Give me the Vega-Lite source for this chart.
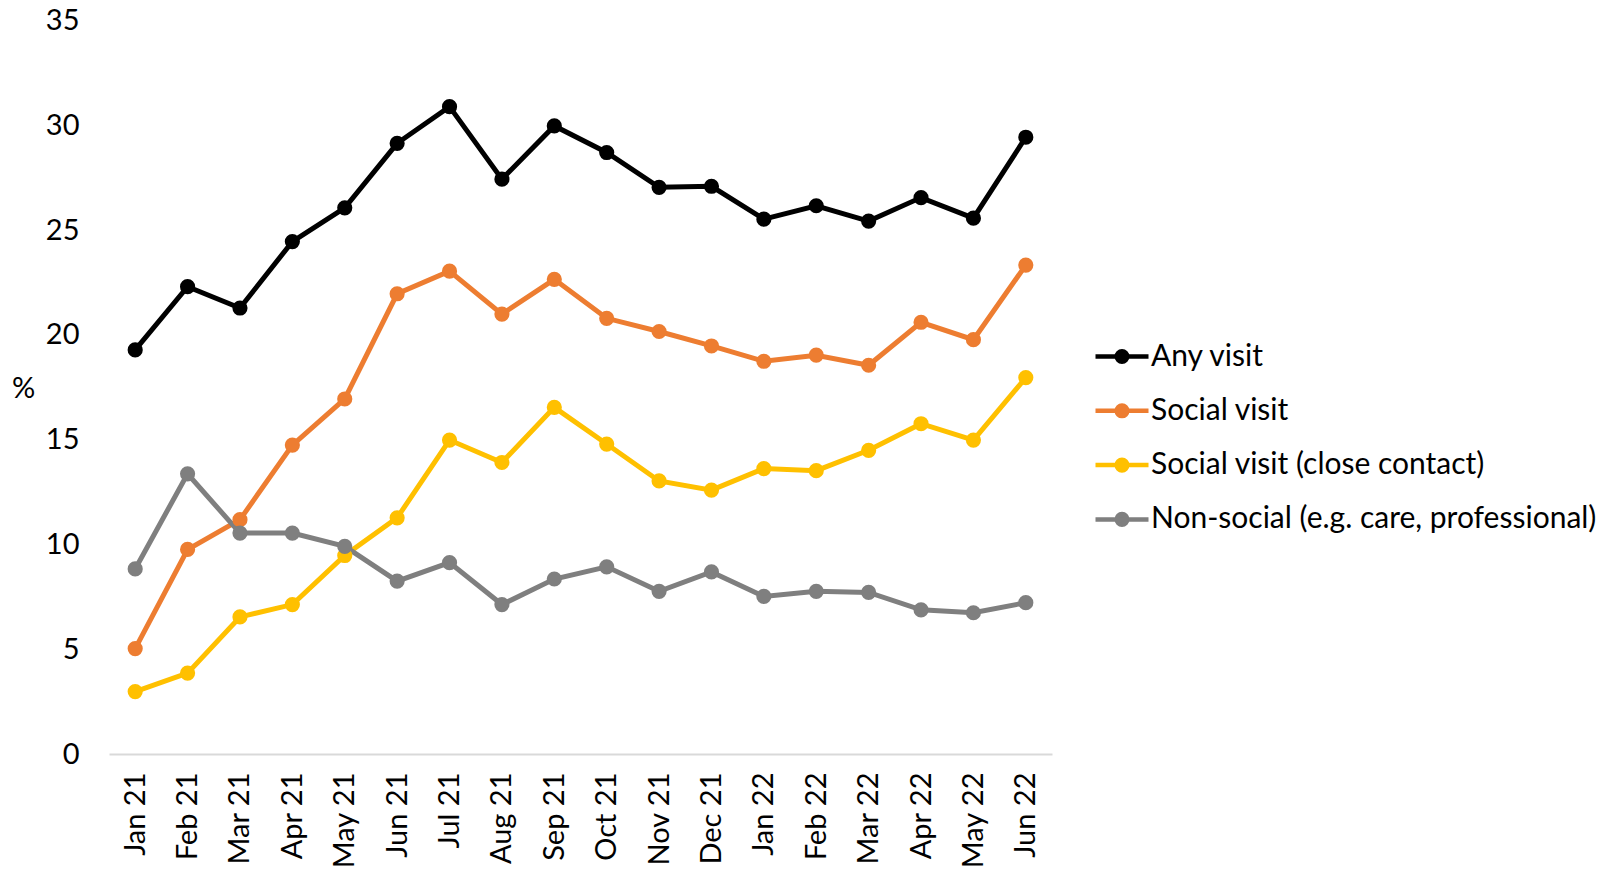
{
  "$schema": "https://vega.github.io/schema/vega-lite/v6.json",
  "autosize": "none",
  "padding": {"left": 109, "top": 20.5, "right": 552, "bottom": 120},
  "width": 943,
  "height": 733.5,
  "config": {
    "font": "Lato",
    "view": {"stroke": null},
    "axis": {"labelFont": "Lato", "titleFont": "Lato", "labelColor": "#000000", "titleColor": "#000000"},
    "legend": {"labelFont": "Lato"}
  },
  "data": {
    "values": [
      {"month": "Jan 21", "series": "Any visit", "pct": 19.28},
      {"month": "Feb 21", "series": "Any visit", "pct": 22.3},
      {"month": "Mar 21", "series": "Any visit", "pct": 21.28},
      {"month": "Apr 21", "series": "Any visit", "pct": 24.45},
      {"month": "May 21", "series": "Any visit", "pct": 26.06},
      {"month": "Jun 21", "series": "Any visit", "pct": 29.14},
      {"month": "Jul 21", "series": "Any visit", "pct": 30.89},
      {"month": "Aug 21", "series": "Any visit", "pct": 27.43},
      {"month": "Sep 21", "series": "Any visit", "pct": 29.97},
      {"month": "Oct 21", "series": "Any visit", "pct": 28.7},
      {"month": "Nov 21", "series": "Any visit", "pct": 27.04},
      {"month": "Dec 21", "series": "Any visit", "pct": 27.09},
      {"month": "Jan 22", "series": "Any visit", "pct": 25.52},
      {"month": "Feb 22", "series": "Any visit", "pct": 26.16},
      {"month": "Mar 22", "series": "Any visit", "pct": 25.43},
      {"month": "Apr 22", "series": "Any visit", "pct": 26.55},
      {"month": "May 22", "series": "Any visit", "pct": 25.57},
      {"month": "Jun 22", "series": "Any visit", "pct": 29.43},
      {"month": "Jan 21", "series": "Social visit", "pct": 5.03},
      {"month": "Feb 21", "series": "Social visit", "pct": 9.76},
      {"month": "Mar 21", "series": "Social visit", "pct": 11.18},
      {"month": "Apr 21", "series": "Social visit", "pct": 14.74},
      {"month": "May 21", "series": "Social visit", "pct": 16.94},
      {"month": "Jun 21", "series": "Social visit", "pct": 21.96},
      {"month": "Jul 21", "series": "Social visit", "pct": 23.04},
      {"month": "Aug 21", "series": "Social visit", "pct": 20.99},
      {"month": "Sep 21", "series": "Social visit", "pct": 22.65},
      {"month": "Oct 21", "series": "Social visit", "pct": 20.79},
      {"month": "Nov 21", "series": "Social visit", "pct": 20.16},
      {"month": "Dec 21", "series": "Social visit", "pct": 19.47},
      {"month": "Jan 22", "series": "Social visit", "pct": 18.74},
      {"month": "Feb 22", "series": "Social visit", "pct": 19.03},
      {"month": "Mar 22", "series": "Social visit", "pct": 18.55},
      {"month": "Apr 22", "series": "Social visit", "pct": 20.6},
      {"month": "May 22", "series": "Social visit", "pct": 19.77},
      {"month": "Jun 22", "series": "Social visit", "pct": 23.33},
      {"month": "Jan 21", "series": "Social visit (close contact)", "pct": 2.98},
      {"month": "Feb 21", "series": "Social visit (close contact)", "pct": 3.86},
      {"month": "Mar 21", "series": "Social visit (close contact)", "pct": 6.54},
      {"month": "Apr 21", "series": "Social visit (close contact)", "pct": 7.13},
      {"month": "May 21", "series": "Social visit (close contact)", "pct": 9.47},
      {"month": "Jun 21", "series": "Social visit (close contact)", "pct": 11.27},
      {"month": "Jul 21", "series": "Social visit (close contact)", "pct": 14.98},
      {"month": "Aug 21", "series": "Social visit (close contact)", "pct": 13.91},
      {"month": "Sep 21", "series": "Social visit (close contact)", "pct": 16.54},
      {"month": "Oct 21", "series": "Social visit (close contact)", "pct": 14.79},
      {"month": "Nov 21", "series": "Social visit (close contact)", "pct": 13.03},
      {"month": "Dec 21", "series": "Social visit (close contact)", "pct": 12.59},
      {"month": "Jan 22", "series": "Social visit (close contact)", "pct": 13.62},
      {"month": "Feb 22", "series": "Social visit (close contact)", "pct": 13.52},
      {"month": "Mar 22", "series": "Social visit (close contact)", "pct": 14.49},
      {"month": "Apr 22", "series": "Social visit (close contact)", "pct": 15.76},
      {"month": "May 22", "series": "Social visit (close contact)", "pct": 14.98},
      {"month": "Jun 22", "series": "Social visit (close contact)", "pct": 17.96},
      {"month": "Jan 21", "series": "Non-social (e.g. care, professional)", "pct": 8.83},
      {"month": "Feb 21", "series": "Non-social (e.g. care, professional)", "pct": 13.37},
      {"month": "Mar 21", "series": "Non-social (e.g. care, professional)", "pct": 10.54},
      {"month": "Apr 21", "series": "Non-social (e.g. care, professional)", "pct": 10.54},
      {"month": "May 21", "series": "Non-social (e.g. care, professional)", "pct": 9.91},
      {"month": "Jun 21", "series": "Non-social (e.g. care, professional)", "pct": 8.25},
      {"month": "Jul 21", "series": "Non-social (e.g. care, professional)", "pct": 9.13},
      {"month": "Aug 21", "series": "Non-social (e.g. care, professional)", "pct": 7.13},
      {"month": "Sep 21", "series": "Non-social (e.g. care, professional)", "pct": 8.35},
      {"month": "Oct 21", "series": "Non-social (e.g. care, professional)", "pct": 8.93},
      {"month": "Nov 21", "series": "Non-social (e.g. care, professional)", "pct": 7.76},
      {"month": "Dec 21", "series": "Non-social (e.g. care, professional)", "pct": 8.69},
      {"month": "Jan 22", "series": "Non-social (e.g. care, professional)", "pct": 7.52},
      {"month": "Feb 22", "series": "Non-social (e.g. care, professional)", "pct": 7.76},
      {"month": "Mar 22", "series": "Non-social (e.g. care, professional)", "pct": 7.71},
      {"month": "Apr 22", "series": "Non-social (e.g. care, professional)", "pct": 6.88},
      {"month": "May 22", "series": "Non-social (e.g. care, professional)", "pct": 6.74},
      {"month": "Jun 22", "series": "Non-social (e.g. care, professional)", "pct": 7.22}
    ]
  },
  "mark": {"type": "line", "strokeWidth": 5, "point": {"filled": true, "size": 230, "opacity": 1}},
  "encoding": {
    "x": {
      "field": "month",
      "type": "ordinal",
      "sort": ["Jan 21","Feb 21","Mar 21","Apr 21","May 21","Jun 21","Jul 21","Aug 21","Sep 21","Oct 21","Nov 21","Dec 21","Jan 22","Feb 22","Mar 22","Apr 22","May 22","Jun 22"],
      "scale": {"type": "point", "padding": 0.5},
      "axis": {
        "title": null,
        "labelAngle": -90,
        "labelAlign": "right",
        "labelBaseline": "middle",
        "labelFontSize": 29,
        "labelPadding": 18,
        "ticks": false,
        "domainColor": "#d9d9d9",
        "domainWidth": 2,
        "grid": false
      }
    },
    "y": {
      "field": "pct",
      "type": "quantitative",
      "scale": {"domain": [0, 35], "nice": false},
      "axis": {
        "title": "%",
        "titleAngle": 0,
        "titleFontSize": 29,
        "titleFontWeight": "normal",
        "titleX": -86,
        "titleY": 368,
        "titleAlign": "center",
        "titleBaseline": "middle",
        "values": [0, 5, 10, 15, 20, 25, 30, 35],
        "labelFontSize": 29,
        "labelPadding": 30,
        "ticks": false,
        "domain": false,
        "grid": false
      }
    },
    "color": {
      "field": "series",
      "type": "nominal",
      "scale": {
        "domain": ["Any visit", "Social visit", "Social visit (close contact)", "Non-social (e.g. care, professional)"],
        "range": ["#000000", "#ED7D31", "#FFC000", "#7F7F7F"]
      },
      "legend": {
        "title": null,
        "orient": "none",
        "legendX": 984,
        "legendY": 307,
        "padding": 0,
        "labelFontSize": 30,
        "labelOffset": 0,
        "rowPadding": 10.3,
        "symbolType": "M-1,0L1,0M-0.2,0A0.2,0.2 0 1,0 0.2,0A0.2,0.2 0 1,0 -0.2,0Z",
        "symbolSize": 2809,
        "symbolStrokeWidth": 4.5,
        "labelLimit": 600,
        "encode": {
          "symbols": {
            "update": {
              "fill": {"scale": "color", "field": "value"},
              "stroke": {"scale": "color", "field": "value"},
              "opacity": {"value": 1}
            }
          }
        }
      }
    }
  }
}
